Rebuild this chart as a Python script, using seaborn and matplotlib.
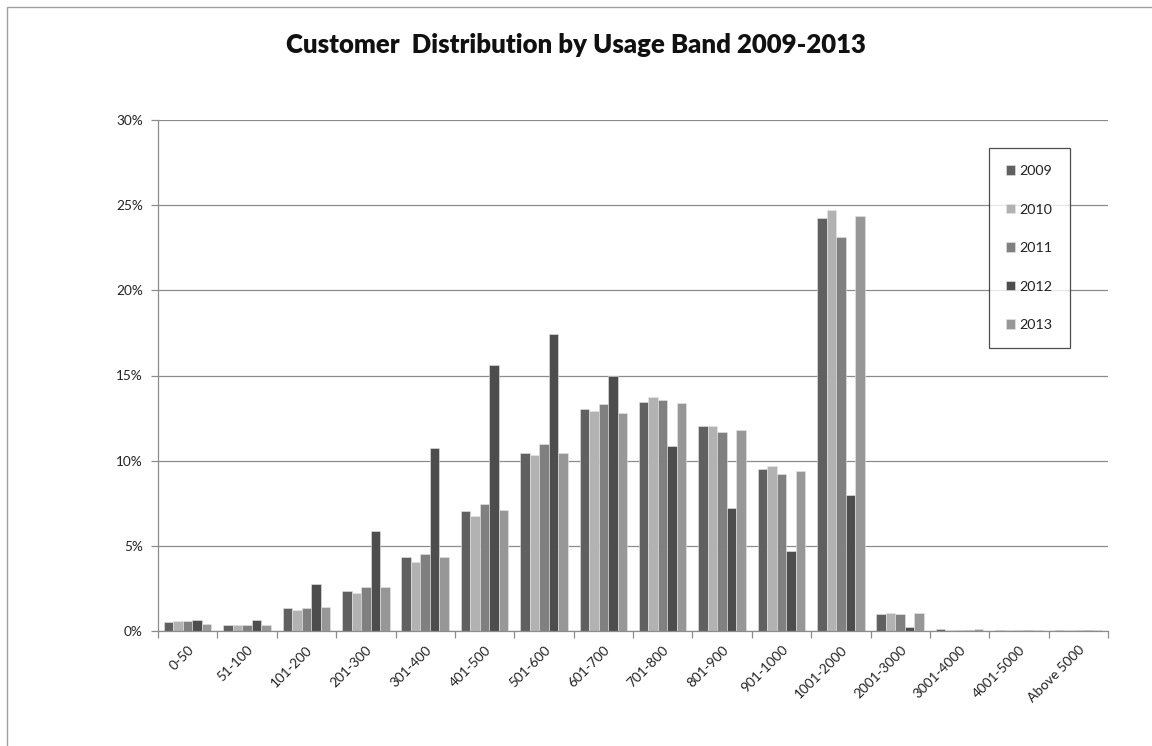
import matplotlib
matplotlib.use("Agg")
import matplotlib.pyplot as plt
import seaborn as sns
import pandas as pd
import numpy as np
from matplotlib.patches import Rectangle
from matplotlib.ticker import FixedLocator, PercentFormatter

categories = ["0-50", "51-100", "101-200", "201-300", "301-400", "401-500",
              "501-600", "601-700", "701-800", "801-900", "901-1000",
              "1001-2000", "2001-3000", "3001-4000", "4001-5000", "Above 5000"]
years = ["2009", "2010", "2011", "2012", "2013"]

v2009 = [0.50, 0.35, 1.35, 2.35, 4.35, 7.05, 10.45, 13.03, 13.45, 12.01, 9.49, 24.24, 1.00, 0.14, 0.06, 0.06]
v2010 = [0.59, 0.35, 1.21, 2.21, 4.05, 6.76, 10.33, 12.93, 13.73, 12.01, 9.71, 24.71, 1.06, 0.04, 0.06, 0.06]
v2011 = [0.59, 0.35, 1.35, 2.56, 4.54, 7.46, 10.96, 13.30, 13.54, 11.66, 9.22, 23.16, 1.00, 0.04, 0.06, 0.06]
v2012 = [0.65, 0.65, 2.78, 5.90, 10.74, 15.64, 17.44, 15.00, 10.88, 7.25, 4.67, 8.00, 0.21, 0.06, 0.06, 0.06]
v2013 = [0.43, 0.35, 1.41, 2.56, 4.35, 7.11, 10.45, 12.79, 13.36, 11.82, 9.41, 24.38, 1.06, 0.14, 0.06, 0.06]

colors = ["#606060", "#b2b2b2", "#808080", "#4d4d4d", "#979797"]

rows = []
for y, vals in zip(years, [v2009, v2010, v2011, v2012, v2013]):
    for c, v in zip(categories, vals):
        rows.append({"Band": c, "Year": y, "Value": v})
df = pd.DataFrame(rows)

sns.set_style("white")
plt.rcParams['font.family'] = ['Lato', 'DejaVu Sans']

fig = plt.figure(figsize=(11.52, 7.46), dpi=100)
ax = fig.add_axes([158/1152, 1 - 631/746, (1108 - 158)/1152, (631 - 120)/746])

sns.barplot(data=df, x="Band", y="Value", hue="Year", order=categories,
            hue_order=years, palette=colors, width=0.8, gap=0,
            edgecolor="#e6e6e6", linewidth=0.4, ax=ax, saturation=1)

ax.set_xlim(-0.5, len(categories) - 0.5)
ax.set_ylim(0, 30)
ax.set_yticks([0, 5, 10, 15, 20, 25, 30])
ax.yaxis.set_major_formatter(PercentFormatter(decimals=0))
ax.yaxis.grid(True, color="#8c8c8c", linewidth=0.9)
ax.set_axisbelow(True)
ax.set_xlabel("")
ax.set_ylabel("")

for s in ["top", "right"]:
    ax.spines[s].set_visible(False)
for s in ["left", "bottom"]:
    ax.spines[s].set_color("#8c8c8c")
    ax.spines[s].set_linewidth(0.9)

ax.set_xticks(range(len(categories)))
ax.set_xticklabels(categories, rotation=45, ha="right", rotation_mode="anchor",
                   fontsize=9.8, color="#222222")
ax.tick_params(axis="x", which="major", length=0, pad=9)
ax.xaxis.set_minor_locator(FixedLocator(np.arange(-0.5, len(categories), 1.0)))
ax.tick_params(axis="x", which="minor", length=5, color="#8c8c8c", width=0.9)
ax.tick_params(axis="y", length=5, color="#8c8c8c", width=0.9, labelsize=9.8,
               labelcolor="#222222", pad=6)
ax.tick_params(axis="both", which="both", direction="out", bottom=True, left=True)

fig.text(0.5, 1 - 45/746, "Customer  Distribution by Usage Band 2009-2013",
         ha="center", va="center", fontsize=18.5, fontweight="heavy", color="#111111")

leg = ax.legend(loc="upper left", bbox_to_anchor=((989 - 158)/950, 1 - (148 - 120)/511),
                frameon=True, fancybox=False, edgecolor="#222222",
                fontsize=10.3, handlelength=0.65, handleheight=0.65,
                labelspacing=1.85, borderpad=1.2, handletextpad=0.3,
                borderaxespad=0)
leg.get_frame().set_linewidth(0.9)
for t in leg.get_texts():
    t.set_color("#222222")

fig.patches.append(Rectangle((7/1152, -0.1), 1.2, 1 + 0.1 - 7/746,
                             transform=fig.transFigure, fill=False,
                             edgecolor="#a0a0a0", linewidth=1.0))

fig.savefig("out.png", dpi=100)
